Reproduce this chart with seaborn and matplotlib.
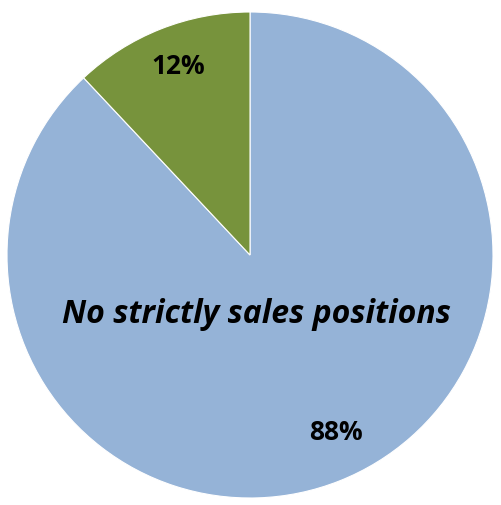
import matplotlib
matplotlib.use("Agg")
import matplotlib.pyplot as plt
import seaborn as sns

# Share of positions by type
categories = ["No strictly sales positions", "Strictly sales positions"]
shares = [88, 12]
colors = ["#95B3D7", "#77933C"]

sns.set_theme(style="white")
plt.rcParams["font.family"] = ["Open Sans", "DejaVu Sans"]

fig = plt.figure(figsize=(5.01, 5.05), dpi=100)
ax = fig.add_axes([7 / 501, 7 / 505, 486 / 501, 486 / 505])

wedges, texts, autotexts = ax.pie(
    shares,
    colors=colors,
    startangle=90,
    counterclock=False,
    autopct=lambda p: f"{p:.0f}%",
    pctdistance=0.82,
    wedgeprops=dict(linewidth=0.8, edgecolor="white"),
    textprops=dict(fontsize=19, fontweight="bold", color="black"),
)
# Label placement inside each slice
autotexts[0].set_position((0.355, -0.73))
autotexts[1].set_position((-0.296, 0.776))

ax.set_xlim(-1, 1)
ax.set_ylim(-1, 1)
ax.set_aspect("auto")
ax.axis("off")

# Category label for the large slice
ax.text(0.025, -0.245, categories[0], ha="center", va="center",
        fontsize=23, fontweight="bold", fontstyle="italic", color="black")

fig.savefig("out.png", dpi=100)
